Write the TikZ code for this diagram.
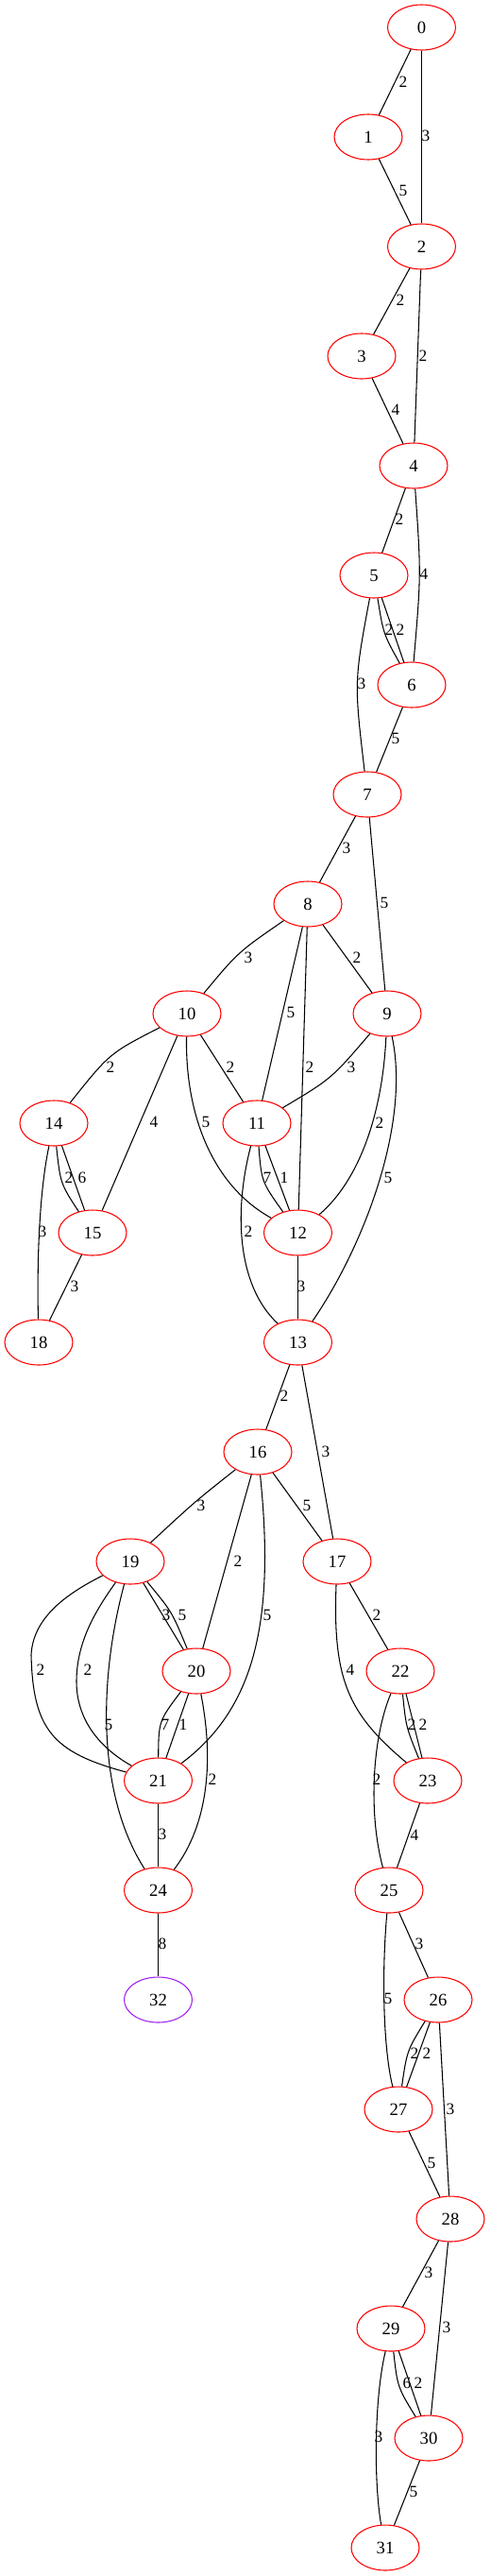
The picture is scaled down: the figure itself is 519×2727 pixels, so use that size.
\documentclass[tikz,border=0pt]{standalone}
\usepackage{fontspec}
\setmainfont{Liberation Serif}
\usetikzlibrary{shapes.geometric}
\definecolor{gvpurple}{HTML}{A020F0}
\tikzset{
  gnode/.style={ellipse, draw=red, line width=0.8pt, minimum width=54pt, minimum height=36pt, inner sep=0pt, font=\fontsize{14}{16}\selectfont},
  pnode/.style={gnode, draw=gvpurple},
  elab/.style={inner sep=0pt, font=\fontsize{13}{15}\selectfont},
  edge/.style={line width=0.8pt, black}
}
\begin{document}
\begin{tikzpicture}[x=0.75pt, y=-0.75pt]
\useasboundingbox (0,0) rectangle (519,2727);
% nodes
\node[gnode] (n0) at (446.5,29) {0};
\node[gnode] (n1) at (390,145) {1};
\node[gnode] (n2) at (446.5,261) {2};
\node[gnode] (n3) at (383,377) {3};
\node[gnode] (n4) at (438,493) {4};
\node[gnode] (n5) at (396,609) {5};
\node[gnode] (n6) at (436,725) {6};
\node[gnode] (n7) at (389,841) {7};
\node[gnode] (n8) at (326,957) {8};
\node[gnode] (n9) at (410,1073) {9};
\node[gnode] (n10) at (198,1073) {10};
\node[gnode] (n11) at (272,1189) {11};
\node[gnode] (n12) at (315.5,1305) {12};
\node[gnode] (n13) at (315.5,1421) {13};
\node[gnode] (n14) at (57,1189) {14};
\node[gnode] (n15) at (98,1305) {15};
\node[gnode] (n16) at (273,1537) {16};
\node[gnode] (n17) at (357,1653) {17};
\node[gnode] (n18) at (41,1421) {18};
\node[gnode] (n19) at (138,1653) {19};
\node[gnode] (n20) at (208,1769) {20};
\node[gnode] (n21) at (167.5,1885) {21};
\node[gnode] (n22) at (424,1769) {22};
\node[gnode] (n23) at (453,1885) {23};
\node[gnode] (n24) at (167.5,2001) {24};
\node[gnode] (n25) at (412,2001) {25};
\node[gnode] (n26) at (464,2117) {26};
\node[gnode] (n27) at (422,2233) {27};
\node[gnode] (n28) at (477,2349) {28};
\node[gnode] (n29) at (414,2465) {29};
\node[gnode] (n30) at (454,2581) {30};
\node[gnode] (n31) at (408,2697) {31};
\node[pnode] (n32) at (167.5,2117) {32};
% edges
\draw[edge] (n0) -- (n1);
\draw[edge] (n0) -- (n2);
\draw[edge] (n1) -- (n2);
\draw[edge] (n2) -- (n3);
\draw[edge] (n2) -- (n4);
\draw[edge] (n3) -- (n4);
\draw[edge] (n4) -- (n5);
\draw[edge] (n4) .. controls (446,608) .. (n6);
\draw[edge] (n5) .. controls (406,671) .. (n6);
\draw[edge] (n5) -- (n6);
\draw[edge] (n5) .. controls (375,722) .. (n7);
\draw[edge] (n6) -- (n7);
\draw[edge] (n7) -- (n8);
\draw[edge] (n7) -- (n9);
\draw[edge] (n8) .. controls (252,1008) .. (n10);
\draw[edge] (n8) -- (n9);
\draw[edge] (n8) -- (n11);
\draw[edge] (n8) -- (n12);
\draw[edge] (n10) .. controls (116,1115) .. (n14);
\draw[edge] (n10) -- (n15);
\draw[edge] (n10) .. controls (196,1180) and (225,1255) .. (n12);
\draw[edge] (n10) -- (n11);
\draw[edge] (n9) .. controls (351,1142) .. (n11);
\draw[edge] (n9) .. controls (405,1180) and (380,1250) .. (n12);
\draw[edge] (n9) .. controls (435,1190) and (385,1320) .. (n13);
\draw[edge] (n11) .. controls (277,1251) .. (n12);
\draw[edge] (n11) -- (n12);
\draw[edge] (n11) .. controls (248,1280) and (250,1360) .. (n13);
\draw[edge] (n12) -- (n13);
\draw[edge] (n14) .. controls (64,1253) .. (n15);
\draw[edge] (n14) -- (n15);
\draw[edge] (n14) .. controls (42,1260) and (39,1330) .. (n18);
\draw[edge] (n15) -- (n18);
\draw[edge] (n13) -- (n16);
\draw[edge] (n13) -- (n17);
\draw[edge] (n16) .. controls (206,1590) .. (n19);
\draw[edge] (n16) -- (n20);
\draw[edge] (n16) .. controls (292,1720) and (268,1810) .. (n21);
\draw[edge] (n16) -- (n17);
\draw[edge] (n19) -- (n20);
\draw[edge] (n19) .. controls (182,1706) .. (n20);
\draw[edge] (n19) .. controls (75,1685) and (35,1710) .. (33,1752) .. controls (35,1830) and (55,1855) .. (n21);
\draw[edge] (n19) .. controls (105,1700) and (81,1735) .. (81,1780) .. controls (81,1820) and (105,1850) .. (n21);
\draw[edge] (n19) .. controls (104,1780) and (103,1900) .. (n24);
\draw[edge] (n17) -- (n22);
\draw[edge] (n17) .. controls (352,1780) and (370,1815) .. (n23);
\draw[edge] (n20) .. controls (168,1822) .. (n21);
\draw[edge] (n20) -- (n21);
\draw[edge] (n20) .. controls (226,1860) and (222,1930) .. (n24);
\draw[edge] (n22) .. controls (430,1828) .. (n23);
\draw[edge] (n22) -- (n23);
\draw[edge] (n22) .. controls (394,1840) and (390,1920) .. (n25);
\draw[edge] (n21) -- (n24);
\draw[edge] (n23) -- (n25);
\draw[edge] (n24) -- (n32);
\draw[edge] (n25) -- (n26);
\draw[edge] (n25) .. controls (404,2090) and (406,2170) .. (n27);
\draw[edge] (n26) .. controls (431,2171) .. (n27);
\draw[edge] (n26) -- (n27);
\draw[edge] (n26) -- (n28);
\draw[edge] (n27) -- (n28);
\draw[edge] (n28) -- (n29);
\draw[edge] (n28) -- (n30);
\draw[edge] (n29) .. controls (421,2527) .. (n30);
\draw[edge] (n29) -- (n30);
\draw[edge] (n29) .. controls (396,2540) and (396,2630) .. (n31);
\draw[edge] (n30) -- (n31);
% edge labels
\node[elab] (l0-1) at (427,87) {2};
\node[elab] (l0-2) at (451,144) {3};
\node[elab] (l1-2) at (427,202) {5};
\node[elab] (l2-3) at (424,318) {2};
\node[elab] (l2-4) at (448,377) {2};
\node[elab] (l3-4) at (419,434) {4};
\node[elab] (l4-5) at (423,550) {2};
\node[elab] (l4-6) at (449,608) {4};
\node[elab] (l5-6a) at (412,667) {2};
\node[elab] (l5-6b) at (424,667) {2};
\node[elab] (l5-7) at (383,724) {3};
\node[elab] (l6-7) at (419,782) {5};
\node[elab] (l7-8) at (367,898) {3};
\node[elab] (l7-9) at (407,956) {5};
\node[elab] (l8-10) at (263,1014) {3};
\node[elab] (l8-9) at (378,1014) {2};
\node[elab] (l8-11) at (308,1072) {5};
\node[elab] (l8-12) at (328,1130) {2};
\node[elab] (l10-14) at (117,1130) {2};
\node[elab] (l10-15) at (163,1188) {4};
\node[elab] (l10-12) at (218,1188) {5};
\node[elab] (l10-11) at (244,1130) {2};
\node[elab] (l9-11) at (372,1130) {3};
\node[elab] (l9-12) at (402,1189) {2};
\node[elab] (l9-13) at (411,1247) {5};
\node[elab] (l11-12a) at (283,1247) {7};
\node[elab] (l11-12b) at (301,1247) {1};
\node[elab] (l11-13) at (263,1304) {2};
\node[elab] (l12-13) at (319,1362) {3};
\node[elab] (l14-15a) at (73,1247) {2};
\node[elab] (l14-15b) at (87,1247) {6};
\node[elab] (l14-18) at (45,1304) {3};
\node[elab] (l15-18) at (79,1362) {3};
\node[elab] (l13-16) at (301,1478) {2};
\node[elab] (l13-17) at (345,1537) {3};
\node[elab] (l16-19) at (213,1594) {3};
\node[elab] (l16-20) at (252,1653) {2};
\node[elab] (l16-21) at (283,1710) {5};
\node[elab] (l16-17) at (325,1594) {5};
\node[elab] (l19-20a) at (176,1710) {3};
\node[elab] (l19-20b) at (193,1710) {5};
\node[elab] (l19-21a) at (43,1768) {2};
\node[elab] (l19-21b) at (93,1768) {2};
\node[elab] (l19-24) at (115,1826) {5};
\node[elab] (l17-22) at (399,1710) {2};
\node[elab] (l17-23) at (371,1768) {4};
\node[elab] (l20-21a) at (175,1826) {7};
\node[elab] (l20-21b) at (194,1826) {1};
\node[elab] (l20-24) at (225,1884) {2};
\node[elab] (l22-23a) at (436,1826) {2};
\node[elab] (l22-23b) at (448,1826) {2};
\node[elab] (l22-25) at (399,1884) {2};
\node[elab] (l21-24) at (172,1942) {3};
\node[elab] (l23-25) at (439,1943) {4};
\node[elab] (l24-32) at (172,2058) {8};
\node[elab] (l25-26) at (444,2058) {3};
\node[elab] (l25-27) at (411,2116) {5};
\node[elab] (l26-27a) at (439,2174) {2};
\node[elab] (l26-27b) at (452,2174) {2};
\node[elab] (l26-28) at (477,2233) {3};
\node[elab] (l27-28) at (457,2290) {5};
\node[elab] (l28-29) at (454,2406) {3};
\node[elab] (l28-30) at (473,2464) {3};
\node[elab] (l29-30a) at (431,2523) {6};
\node[elab] (l29-30b) at (443,2523) {2};
\node[elab] (l29-31) at (401,2580) {3};
\node[elab] (l30-31) at (438,2638) {5};
\end{tikzpicture}
\end{document}
